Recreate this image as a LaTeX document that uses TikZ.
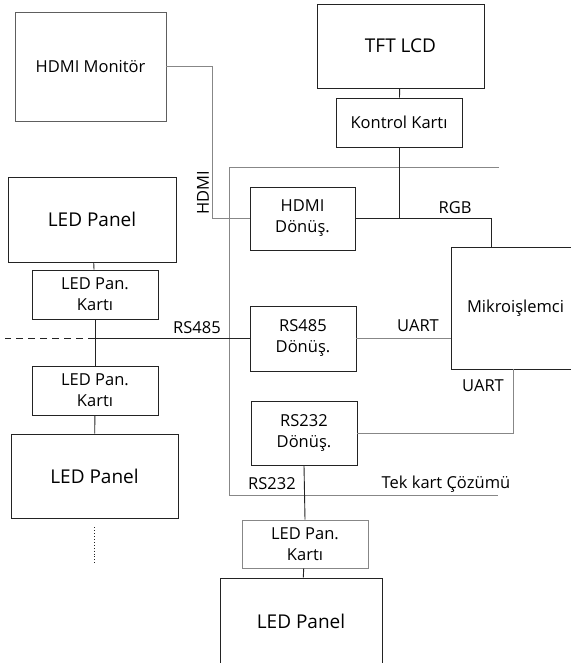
\documentclass[tikz,border=0pt]{standalone}
\usepackage{fontspec}
\setmainfont{Open Sans}
\usepackage{tikz}
\usetikzlibrary{positioning}
\tikzset{every node/.append style={align=center}}
\definecolor{boxcol}{RGB}{35,35,35}
\definecolor{wiregray}{RGB}{135,135,135}
\tikzset{
  blockbox/.style={draw=boxcol, line width=0.9pt, inner sep=0pt,
                   font=\fontsize{16.5}{21}\selectfont},
  bigbox/.style={blockbox, font=\fontsize{19}{23}\selectfont},
  wire/.style={boxcol, line width=0.9pt},
  graywire/.style={wiregray, line width=0.9pt},
  sigtext/.style={font=\fontsize{16.5}{20}\selectfont, inner sep=0pt}
}

\begin{document}
\begin{tikzpicture}[x=1pt,y=-1pt]
\useasboundingbox (0,0) rectangle (570,663);

% ── Upper right: display chain ───────────────────────────────────────────────
\node[bigbox, minimum width=167pt, minimum height=84pt] (tft) at (400.5,46) {TFT LCD};
\node[blockbox, minimum width=126pt, minimum height=49pt] (kontrol) at (399,122.5)
     {Kontrol Kartı};
\node[blockbox, draw=wiregray!70!black, minimum width=151pt, minimum height=109pt]
     (monitor) at (90.5,66.5) {HDMI Monitör};

% ── Converter boxes ──────────────────────────────────────────────────────────
\node[blockbox, minimum width=105pt, minimum height=63pt] (hdmidon) at (302.5,218.5)
     {HDMI\\Dönüş.};
\node[blockbox, minimum width=106pt, minimum height=65pt] (rsdortdon) at (303,338.5)
     {RS485\\Dönüş.};
\node[blockbox, minimum width=106pt, minimum height=64pt] (rsikidon) at (304,433)
     {RS232\\Dönüş.};
\node[blockbox, minimum width=129pt, minimum height=122pt] (mikro) at (515.5,308)
     {Mikroişlemci};

% ── Left LED panel chain ─────────────────────────────────────────────────────
\node[bigbox, minimum width=168pt, minimum height=85pt] (panelA) at (92,219.5) {LED Panel};
\node[blockbox, minimum width=126pt, minimum height=49pt] (kartA) at (95,294.5)
     {LED Pan.\\Kartı};
\node[blockbox, minimum width=126pt, minimum height=49pt] (kartB) at (95,390.5)
     {LED Pan.\\Kartı};
\node[bigbox, minimum width=167pt, minimum height=84pt] (panelB) at (94.5,476) {LED Panel};

% ── Bottom LED panel ─────────────────────────────────────────────────────────
\node[blockbox, draw=wiregray, minimum width=126pt, minimum height=48pt] (kartC) at (305,544)
     {LED Pan.\\Kartı};
\node[bigbox, minimum width=162pt, minimum height=86pt] (panelC) at (301,621) {LED Panel};

% Single board frame
\coordinate (frameTR) at (499,167);
\coordinate (frameBR) at (498,495);
\draw[graywire] (frameTR) -- (229,167) -- (229,495) -- (frameBR);

% ── Connections ──────────────────────────────────────────────────────────────
\draw[wire] (tft) -- (kontrol);
\draw[wire] (kontrol.south) -- (kontrol.south |- hdmidon.east);
\draw[wire] (hdmidon.east) -| ([xshift=-24.5pt]mikro.north);
\draw[graywire] (monitor.east) -- ++(46,0) |- (hdmidon.west);
\draw[graywire] (rsdortdon.east) -- (mikro.west |- rsdortdon.east);
\draw[graywire] (rsikidon.east) -| ([xshift=-2.5pt]mikro.south);
\draw[wire] (rsikidon.south) -- (kartC.north);
\draw[wire] (kartC) -- (panelC);

\draw[wire] (panelA) -- (kartA);
\draw[wire] (kartA) -- (kartB);
\draw[wire] (kartB) -- (panelB);
\draw[wire] (rsdortdon.west) -- (kartA.south |- rsdortdon.west);
\draw[wire, dashed, dash pattern=on 7pt off 5pt] (kartA.south |- rsdortdon.west) -- ++(-90,0);
\draw[boxcol, dotted, line width=0.9pt] (panelB.south) ++(0,9) -- ++(0,36);

% Signal labels
\node[sigtext, rotate=90] (hdmilbl) at (203,193) {HDMI};
\node[sigtext] (rgblbl) at (455,208) {RGB};
\node[sigtext] (rsdortlbl) at (197,328) {RS485};
\node[sigtext] (uartA) at (418,326) {UART};
\node[sigtext] (uartB) at (483,386) {UART};
\node[sigtext] (rsikilbl) at (272,484) {RS232};
\node[sigtext] (teklbl) at (446,484) {Tek kart Çözümü};

\end{tikzpicture}
\end{document}
